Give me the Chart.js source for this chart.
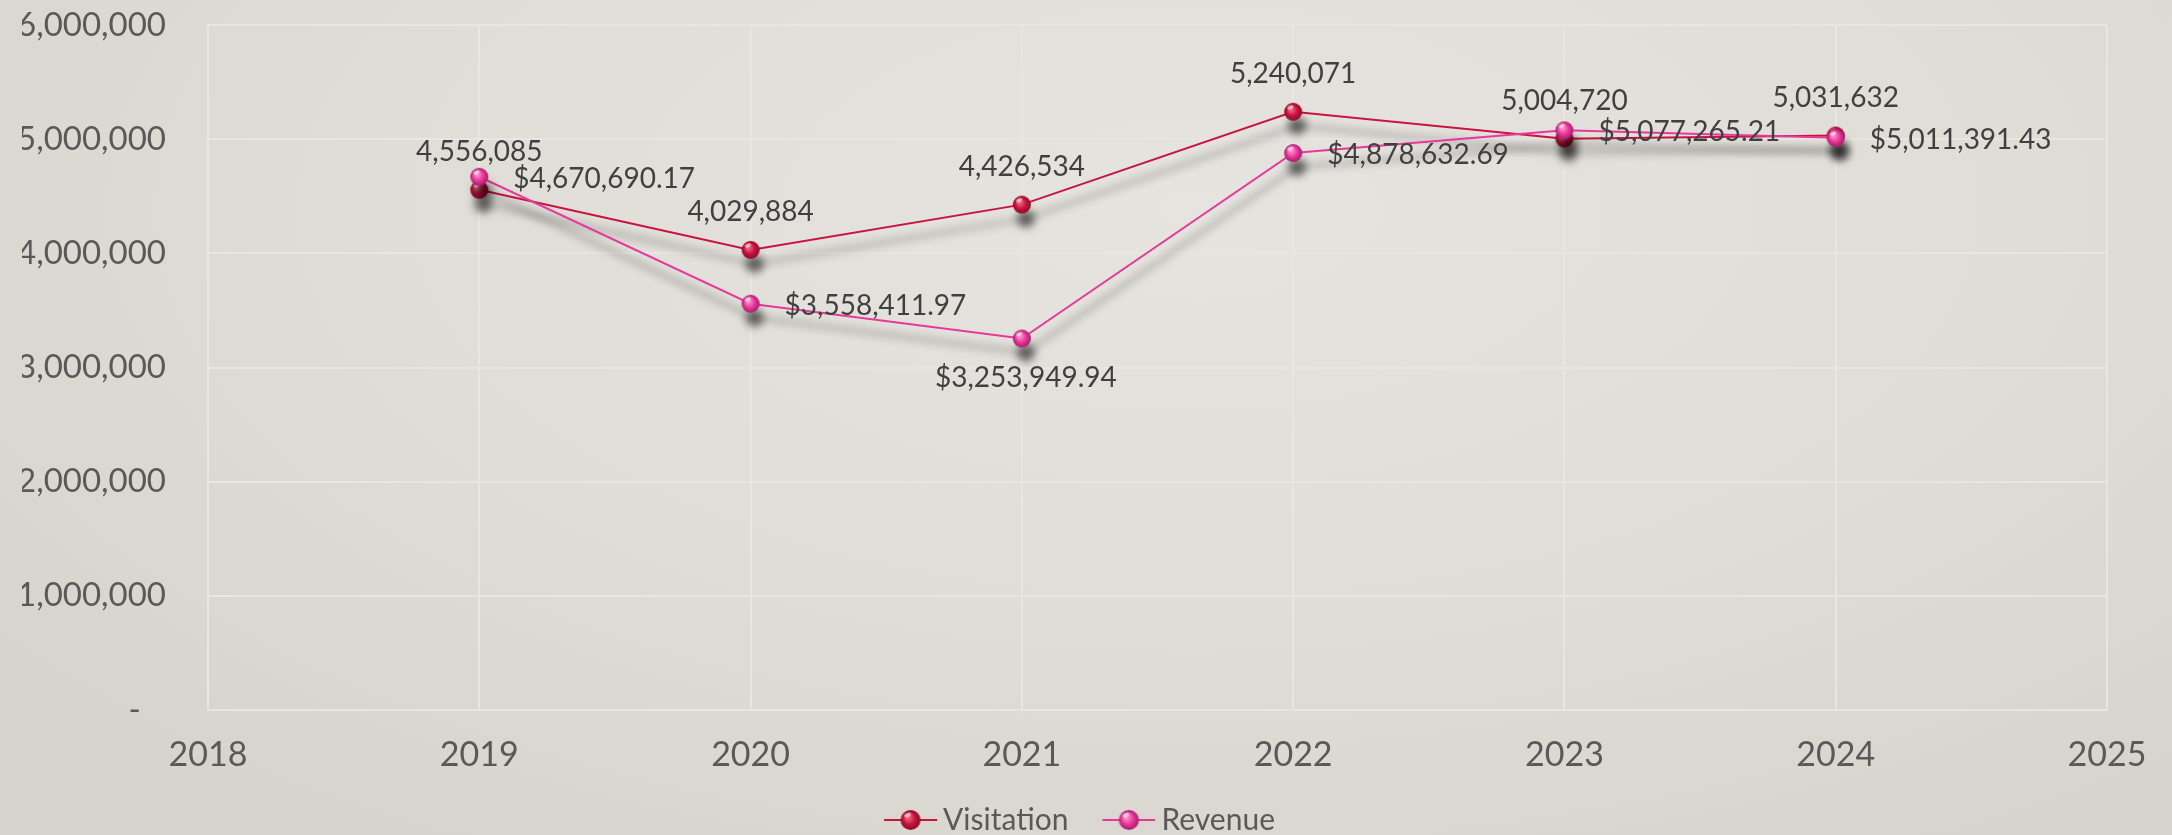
<!DOCTYPE html>
<html>
<head>
<meta charset="utf-8">
<script src="https://cdn.jsdelivr.net/npm/chart.js@4.4.0/dist/chart.umd.min.js"></script>
<style>
  html, body { margin: 0; padding: 0; }
  body {
    width: 2172px; height: 835px; overflow: hidden;
    background: radial-gradient(ellipse 70% 90% at 55% 25%, #e6e4df 0%, #e0ddd7 55%, #d7d4ce 100%);
  }
</style>
</head>
<body>
<canvas id="myChart" width="2172" height="835"></canvas>
<script>
// data
const years = [2019, 2020, 2021, 2022, 2023, 2024];
const visitation = [4556085, 4029884, 4426534, 5240071, 5004720, 5031632];
const revenue = [4670690.17, 3558411.97, 3253949.94, 4878632.69, 5077265.21, 5011391.43];
const seriesNames = ['Visitation', 'Revenue'];

const red = '#c8143f';
const pink = '#e8399a';

// glossy ball used as point style
function ball(base, light, dark, r) {
  const c = document.createElement('canvas');
  c.width = c.height = r * 2 + 2;
  const g = c.getContext('2d');
  const m = r + 1;
  const grad = g.createRadialGradient(m - r * 0.3, m - r * 0.35, r * 0.1, m, m, r);
  grad.addColorStop(0, light);
  grad.addColorStop(0.55, base);
  grad.addColorStop(1, dark);
  g.fillStyle = grad;
  g.beginPath(); g.arc(m, m, r, 0, Math.PI * 2); g.fill();
  g.fillStyle = 'rgba(255,255,255,0.55)';
  g.beginPath(); g.ellipse(m - r * 0.3, m - r * 0.5, r * 0.35, r * 0.2, -0.4, 0, Math.PI * 2); g.fill();
  return c;
}

// legend icon: line with a ball on it, transparent space on the left
function legendIcon(color, pt) {
  const c = document.createElement('canvas');
  c.width = 92; c.height = 22;
  const g = c.getContext('2d');
  g.strokeStyle = color; g.lineWidth = 2;
  g.beginPath(); g.moveTo(39, 11); g.lineTo(92, 11); g.stroke();
  g.drawImage(pt, 65.5 - pt.width / 2, 11 - pt.height / 2);
  return c;
}

const redBall = ball(red, '#f4708c', '#8c0a25', 9);
const pinkBall = ball(pink, '#ff9fd0', '#a8196a', 9);
const legendIcons = [legendIcon(red, ball(red, '#f4708c', '#8c0a25', 10)), legendIcon(pink, ball(pink, '#ff9fd0', '#a8196a', 10))];

const fmtCount = v => v.toLocaleString('en-US');
const fmtMoney = v => '$' + v.toLocaleString('en-US', { minimumFractionDigits: 2, maximumFractionDigits: 2 });

// drop shadow under lines and points
const shadowPlugin = {
  id: 'shadow',
  beforeDatasetDraw(chart) {
    const ctx = chart.ctx;
    ctx.save();
    ctx.shadowColor = 'rgba(0,0,0,0.55)';
    ctx.shadowBlur = 9;
    ctx.shadowOffsetX = 4;
    ctx.shadowOffsetY = 14;
  },
  afterDatasetDraw(chart) {
    chart.ctx.restore();
  }
};

// value labels next to the points
const revenueBelow = [2021];
const labelPlugin = {
  id: 'pointLabels',
  afterDatasetsDraw(chart) {
    const ctx = chart.ctx;
    ctx.save();
    ctx.font = '28px Lato';
    ctx.fillStyle = '#404040';
    ctx.textBaseline = 'middle';
    chart.getDatasetMeta(0).data.forEach((p, i) => {
      ctx.textAlign = 'center';
      ctx.fillText(fmtCount(visitation[i]), p.x, p.y - 38);
    });
    chart.getDatasetMeta(1).data.forEach((p, i) => {
      if (revenueBelow.includes(years[i])) {
        ctx.textAlign = 'center';
        ctx.fillText(fmtMoney(revenue[i]), p.x + 4, p.y + 39);
      } else {
        ctx.textAlign = 'left';
        ctx.fillText(fmtMoney(revenue[i]), p.x + 34, p.y + 2);
      }
    });
    ctx.restore();
  }
};

const ctx = document.getElementById('myChart').getContext('2d');
const myChart = new Chart(ctx, {
  type: 'line',
  data: {
    datasets: [{
      label: seriesNames[0],
      data: years.map((y, i) => ({ x: y, y: visitation[i] })),
      borderColor: red,
      borderWidth: 2,
      pointStyle: redBall,
      order: 1
    }, {
      label: seriesNames[1],
      data: years.map((y, i) => ({ x: y, y: revenue[i] })),
      borderColor: pink,
      borderWidth: 2,
      pointStyle: pinkBall,
      order: 0
    }]
  },
  options: {
    responsive: false,
    animation: false,
    devicePixelRatio: 1,
    layout: { padding: { top: 25, right: 65, bottom: -10, left: 22 } },
    plugins: {
      tooltip: { enabled: false },
      legend: {
        position: 'bottom',
        labels: {
          usePointStyle: true,
          pointStyleWidth: 74,
          padding: 4,
          color: '#595959',
          font: { family: 'Lato', size: 30 },
          sort: (a, b) => a.datasetIndex - b.datasetIndex,
          generateLabels(chart) {
            const items = Chart.defaults.plugins.legend.labels.generateLabels(chart);
            items.forEach(it => { it.pointStyle = legendIcons[it.datasetIndex]; });
            return items;
          }
        }
      }
    },
    scales: {
      x: {
        type: 'linear',
        min: 2018,
        max: 2025,
        ticks: {
          stepSize: 1,
          padding: 25,
          color: '#595959',
          font: { family: 'Lato', size: 34 },
          callback: v => String(v)
        },
        grid: { color: '#e8e6e2', lineWidth: 2, drawTicks: false },
        border: { display: false },
        afterFit: s => { s.height = 91; }
      },
      y: {
        min: 0,
        max: 6000000,
        ticks: {
          stepSize: 1000000,
          padding: 42,
          color: '#595959',
          font: { family: 'Lato', size: 33 },
          callback: v => v === 0 ? '-   ' : fmtCount(v)
        },
        grid: { color: '#e8e6e2', lineWidth: 2, drawTicks: false },
        border: { display: false },
        afterFit: s => { s.width = 186; s.paddingTop = 0; s.paddingBottom = 0; }
      }
    }
  },
  plugins: [shadowPlugin, labelPlugin]
});
</script>
</body>
</html>
